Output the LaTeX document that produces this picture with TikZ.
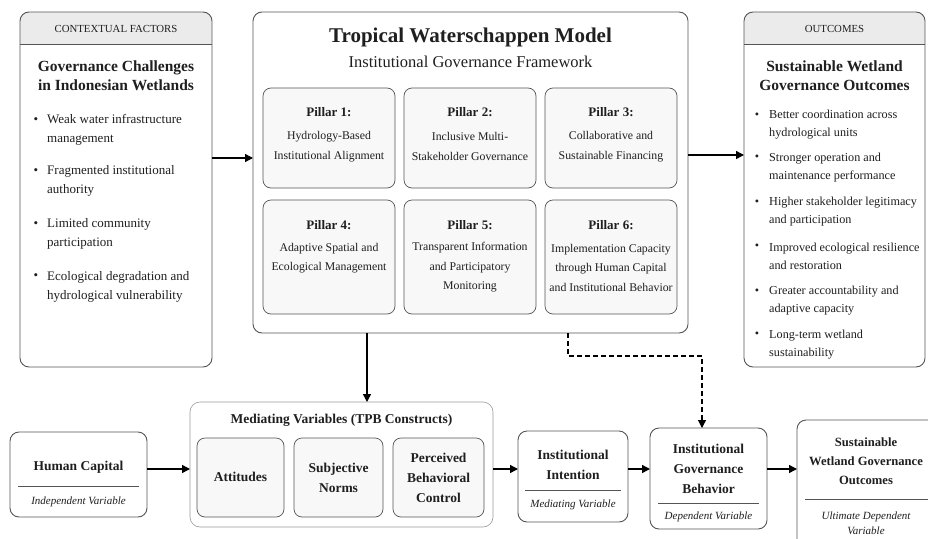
\documentclass[tikz,border=0pt]{standalone}
\usepackage{fontspec}
\setmainfont{Liberation Serif}
\usetikzlibrary{arrows.meta,calc}
\definecolor{bord}{HTML}{555555}
\definecolor{hdr}{HTML}{EBEBEB}
\definecolor{pfill}{HTML}{F8F8F8}
\definecolor{txt}{HTML}{1F1F1F}
\definecolor{medbord}{HTML}{9A9A9A}
\newcommand{\fsz}[2]{\fontsize{#1}{#2}\selectfont}
\begin{document}
\begin{tikzpicture}[x=1pt,y=-1pt,
  box/.style={draw=bord,line width=0.9pt,rounded corners=9pt,fill=white,anchor=north west,inner sep=0pt,outer sep=0pt},
  hdrbox/.style={box,path picture={
     \fill[hdr,sharp corners] (path picture bounding box.north west) rectangle ([yshift=-32pt]path picture bounding box.north east);
     \draw[bord,line width=0.6pt,sharp corners] ([yshift=-32pt]path picture bounding box.north west) -- ([yshift=-32pt]path picture bounding box.north east);}},
  pbox/.style={draw=bord,line width=0.7pt,rounded corners=8pt,fill=pfill,anchor=north west,inner sep=0pt,outer sep=0pt},
  medbox/.style={draw=medbord,line width=0.6pt,rounded corners=10pt,fill=white,anchor=north west,inner sep=0pt,outer sep=0pt},
  t/.style={text=txt,inner sep=0pt,align=center},
  tl/.style={text=txt,inner sep=0pt,align=left,anchor=west},
  arr/.style={-{Triangle[length=8pt,width=8pt]},line width=1.4pt,draw=black},
  darr/.style={-{Triangle[length=8pt,width=8pt]},line width=1.2pt,draw=black,dash pattern=on 5pt off 3pt},
  divl/.style={draw=bord,line width=0.6pt},
  hfont/.style={font=\fsz{10.8}{12}},
  ttl/.style={font=\bfseries\fsz{15.5}{19}},
  bl/.style={font=\fsz{13}{18.5}},
  br/.style={font=\fsz{12.2}{18}},
  ph/.style={font=\bfseries\fsz{13}{15}},
  pt/.style={font=\fsz{11.8}{19.5}},
  bt/.style={font=\bfseries\fsz{13.5}{20}},
  it/.style={font=\itshape\fsz{11}{15}},
]
\fill[white] (0,0) rectangle (928,538);
\useasboundingbox (0,0) rectangle (928,538);
\clip (0,0) rectangle (928,538);

% ---------- top row boxes ----------
\node[hdrbox,minimum width=192pt,minimum height=355pt] (ctx) at (20,12) {};
\node[box,minimum width=435pt,minimum height=321pt] (twm) at (253,12) {};
\node[hdrbox,minimum width=181pt,minimum height=355pt] (out) at (744,12) {};

% contextual factors
\node[t,hfont] (ctxh) at (116,29) {CONTEXTUAL FACTORS};
\node[t,ttl] (ctxt) at (116,76) {Governance Challenges\\in Indonesian Wetlands};
\node[t,bl] (cb1) at (36,121) {\textbullet};
\node[tl,bl] (c1) at (47,130) {Weak water infrastructure\\management};
\node[t,bl] (cb2) at (36,172) {\textbullet};
\node[tl,bl] (c2) at (47,181) {Fragmented institutional\\authority};
\node[t,bl] (cb3) at (36,225) {\textbullet};
\node[tl,bl] (c3) at (47,234) {Limited community\\participation};
\node[t,bl] (cb4) at (36,277) {\textbullet};
\node[tl,bl] (c4) at (47,287) {Ecological degradation and\\hydrological vulnerability};

% outcomes
\node[t,hfont] (outh) at (834.5,29) {OUTCOMES};
\node[t,ttl] (outt) at (834.5,76) {Sustainable Wetland\\Governance Outcomes};
\node[t,br] (ob1) at (757,116) {\textbullet};
\node[tl,br] (o1) at (769,124.5) {Better coordination across\\hydrological units};
\node[t,br] (ob2) at (757,158) {\textbullet};
\node[tl,br] (o2) at (769,167.5) {Stronger operation and\\maintenance performance};
\node[t,br] (ob3) at (757,203) {\textbullet};
\node[tl,br] (o3) at (769,212) {Higher stakeholder legitimacy\\and participation};
\node[t,br] (ob4) at (757,247) {\textbullet};
\node[tl,br] (o4) at (769,256) {Improved ecological resilience\\and restoration};
\node[t,br] (ob5) at (757,292) {\textbullet};
\node[tl,br] (o5) at (769,301) {Greater accountability and\\adaptive capacity};
\node[t,br] (ob6) at (757,335) {\textbullet};
\node[tl,br] (o6) at (769,345) {Long-term wetland\\sustainability};

% center model
\node[t,font=\bfseries\fsz{21}{25}] (twmt) at (470.5,37) {Tropical Waterschappen Model};
\node[t,font=\fsz{16.5}{20}] (twms) at (470.5,62) {Institutional Governance Framework};

\node[pbox,minimum width=132pt,minimum height=100pt] (p1) at (263,88) {};
\node[pbox,minimum width=132pt,minimum height=100pt] (p2) at (404,88) {};
\node[pbox,minimum width=132pt,minimum height=100pt] (p3) at (545,88) {};
\node[pbox,minimum width=132pt,minimum height=114pt] (p4) at (263,200) {};
\node[pbox,minimum width=132pt,minimum height=114pt] (p5) at (404,200) {};
\node[pbox,minimum width=132pt,minimum height=114pt] (p6) at (545,200) {};

\node[t,ph] (p1h) at (329,112) {Pillar 1:};
\node[t,pt] (p1t) at (329,146.5) {Hydrology-Based\\Institutional Alignment};
\node[t,ph] (p2h) at (470,112) {Pillar 2:};
\node[t,pt] (p2t) at (470,146.5) {Inclusive Multi-\\Stakeholder Governance};
\node[t,ph] (p3h) at (611,112) {Pillar 3:};
\node[t,pt] (p3t) at (611,146.5) {Collaborative and\\Sustainable Financing};
\node[t,ph] (p4h) at (329,225) {Pillar 4:};
\node[t,pt] (p4t) at (329,258) {Adaptive Spatial and\\Ecological Management};
\node[t,ph] (p5h) at (470,225) {Pillar 5:};
\node[t,pt] (p5t) at (470,267.5) {Transparent Information\\and Participatory\\Monitoring};
\node[t,ph] (p6h) at (611,225) {Pillar 6:};
\node[t,pt] (p6t) at (611,267.5) {Implementation Capacity\\through Human Capital\\and Institutional Behavior};

% ---------- bottom row ----------
\node[box,minimum width=137pt,minimum height=85pt] (hc) at (10,432) {};
\node[t,bt] (hct) at (78.5,467) {Human Capital};
\draw[divl] (18,486) -- (139,486);
\node[t,it] (hci) at (78.5,502) {Independent Variable};

\node[medbox,minimum width=303pt,minimum height=125pt] (med) at (190,402) {};
\node[t,bt] (medt) at (341.5,420) {Mediating Variables (TPB Constructs)};
\node[pbox,minimum width=87pt,minimum height=79pt] (att) at (197,438) {};
\node[pbox,minimum width=89pt,minimum height=79pt] (sn) at (294,438) {};
\node[pbox,minimum width=91pt,minimum height=79pt] (pbc) at (393,438) {};
\node[t,bt] (attt) at (240.5,477) {Attitudes};
\node[t,bt] (snt) at (338.5,477.5) {Subjective\\Norms};
\node[t,bt] (pbct) at (438.5,477.5) {Perceived\\Behavioral\\Control};

\node[box,minimum width=110pt,minimum height=91pt] (ii) at (518,431) {};
\node[t,bt] (iit) at (573,465) {Institutional\\Intention};
\draw[divl] (525,490) -- (621,490);
\node[t,it] (iii) at (573,505) {Mediating Variable};

\node[box,minimum width=117pt,minimum height=101pt] (igb) at (650,428) {};
\node[t,bt] (igbt) at (708.5,468.5) {Institutional\\Governance\\Behavior};
\draw[divl] (658,503) -- (759,503);
\node[t,it] (igbi) at (708.5,517) {Dependent Variable};

\node[box,minimum width=148pt,minimum height=130pt] (uo) at (797,420) {};
\node[t,font=\bfseries\fsz{12.6}{19}] (uot) at (866,461.5) {Sustainable\\Wetland Governance\\Outcomes};
\draw[divl] (805,499) -- (937,499);
\node[t,it] (uoi) at (866,523.5) {Ultimate Dependent\\Variable};

% ---------- connectors ----------
\draw[arr] ([yshift=31.5pt]ctx.east) -- ([yshift=31.5pt]ctx.east -| twm.west);
\draw[arr] ([yshift=17.5pt]twm.east) -- ([yshift=17.5pt]twm.east -| out.west);
\draw[arr] ([xshift=-103.5pt]twm.south) -- ([xshift=-103.5pt]twm.south |- med.north);
\draw[darr] ([xshift=97.5pt]twm.south) -- ++(0,23) -| ([xshift=-6.5pt]igb.north);
\draw[arr] ([yshift=5.5pt]hc.east) -- ([yshift=5.5pt]hc.east -| med.west);
\draw[arr] ([yshift=-4.5pt]med.east) -- ([yshift=-4.5pt]med.east -| ii.west);
\draw[arr] ([yshift=7.5pt]ii.east) -- ([yshift=7.5pt]ii.east -| igb.west);
\draw[arr] ([yshift=9.5pt]igb.east) -- ([yshift=9.5pt]igb.east -| uo.west);
\end{tikzpicture}
\end{document}
